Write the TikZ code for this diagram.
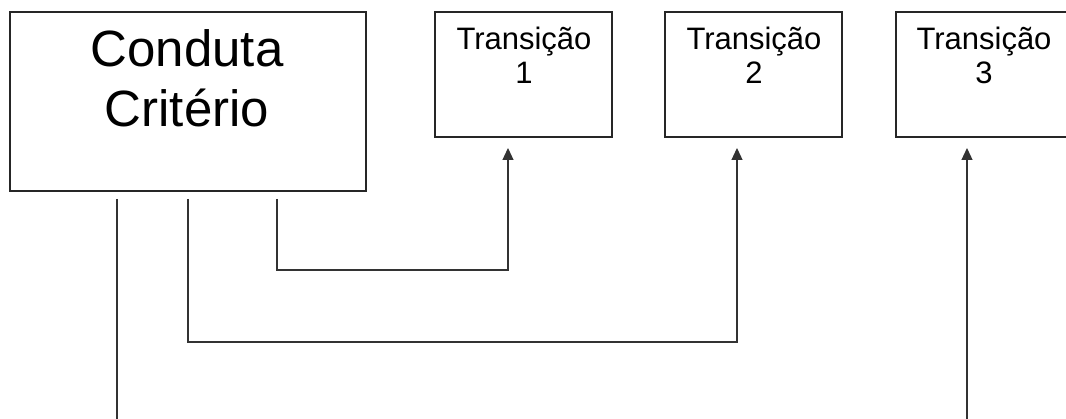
\documentclass[tikz,border=0pt]{standalone}
\usepackage{fontspec}
\setmainfont{Liberation Sans}
\usetikzlibrary{arrows.meta}
\begin{document}
\begin{tikzpicture}[x=1pt,y=-1pt,
  box/.style={draw=black!85,line width=1.3pt,fill=white,rectangle,inner sep=0pt},
  bigtxt/.style={anchor=base,inner sep=0pt,font=\fontsize{51}{60}\selectfont},
  smalltxt/.style={anchor=base,inner sep=0pt,font=\fontsize{31}{34}\selectfont},
  conn/.style={draw=black!80,line width=1.2pt},
  arr/.style={conn,-{Triangle[length=12pt,width=11pt]}}]
\clip (0,0) rectangle (1066,419);
\fill[white] (0,0) rectangle (1066,419);
% boxes
\node[box,minimum width=356pt,minimum height=179pt] (cc) at (188,101.5) {};
\node[box,minimum width=177pt,minimum height=125pt] (t1) at (523.5,74.5) {};
\node[box,minimum width=177pt,minimum height=125pt] (t2) at (753.5,74.5) {};
\node[box,minimum width=177pt,minimum height=125pt] (t3) at (984.5,74.5) {};
% texts
\node[bigtxt] (cc1) at (187,67) {Conduta};
\node[bigtxt] (cc2) at (187,127) {Critério};
\node[smalltxt] (t1a) at (524,50) {Transição};
\node[smalltxt] (t1b) at (524,84) {1};
\node[smalltxt] (t2a) at (754,50) {Transição};
\node[smalltxt] (t2b) at (754,84) {2};
\node[smalltxt] (t3a) at (984,50) {Transição};
\node[smalltxt] (t3b) at (984,84) {3};
% connector coordinates
\coordinate (s1) at (277,199);
\coordinate (s2) at (188,199);
\coordinate (s3) at (117,199);
\coordinate (s3end) at (117,430);
\coordinate (s4) at (967,430);
\coordinate (e1) at (508,148);
\coordinate (e2) at (737,148);
\coordinate (e3) at (967,148);
% connectors
\draw[arr] (s1) |- (e1 |- 0,270) -- (e1);
\draw[arr] (s2) |- (e2 |- 0,342) -- (e2);
\draw[conn] (s3) -- (s3end);
\draw[arr] (s4) -- (e3);
\end{tikzpicture}
\end{document}
